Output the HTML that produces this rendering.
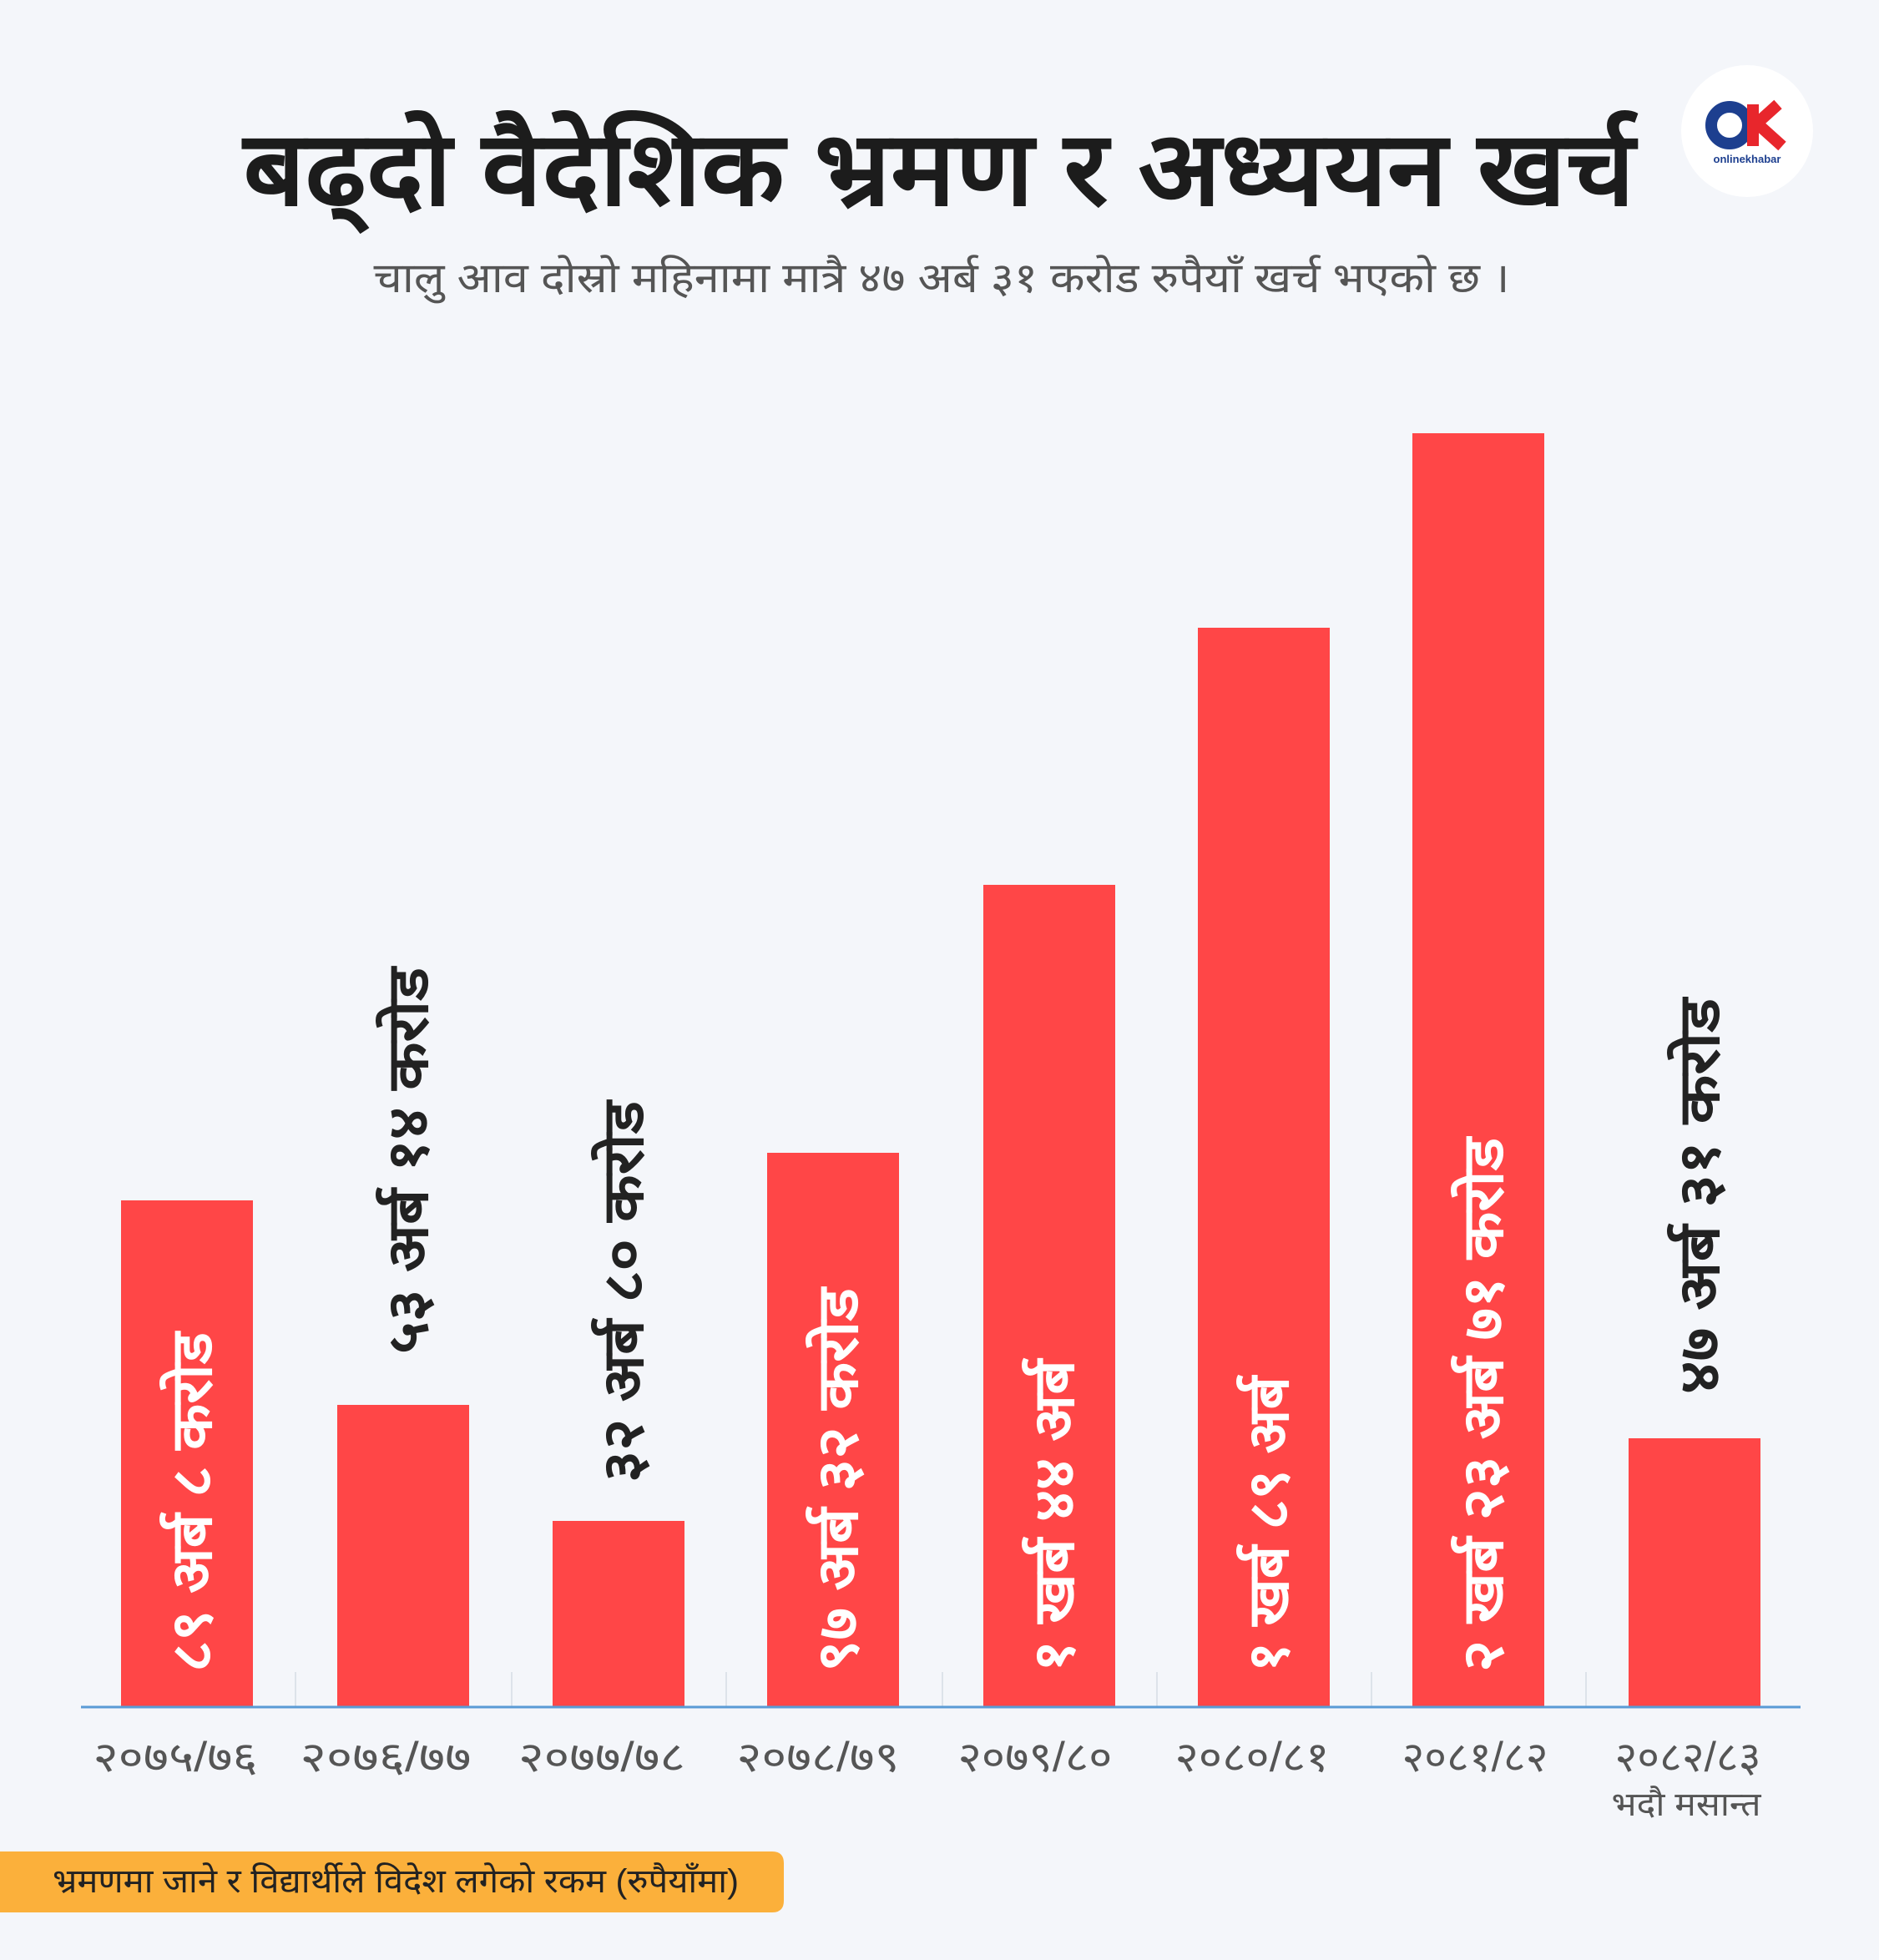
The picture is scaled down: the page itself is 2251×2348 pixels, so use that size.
<!DOCTYPE html>
<html><head><meta charset="utf-8"><style>
html,body{margin:0;padding:0;background:#f4f6fa;}
body{width:2251px;height:2343px;overflow:hidden;font-family:"Liberation Sans","Noto Sans CJK SC",sans-serif;}
</style></head><body>
<svg width="2251" height="2343" viewBox="0 0 2251 2343" xmlns="http://www.w3.org/2000/svg" font-family="Liberation Sans, Noto Sans CJK SC, sans-serif">
<rect width="2251" height="2343" fill="#f4f6fa"/>
<text x="1125" y="245" text-anchor="middle" font-size="124" font-weight="900" fill="#1c1c1c" textLength="1667" lengthAdjust="spacingAndGlyphs">बढ्दो वैदेशिक भ्रमण र अध्ययन खर्च</text>
<text x="1128" y="350" text-anchor="middle" font-size="50" fill="#555" textLength="1361" lengthAdjust="spacingAndGlyphs">चालु आव दोस्रो महिनामा मात्रै ४७ अर्ब ३१ करोड रुपैयाँ खर्च भएको छ ।</text>
<circle cx="2093" cy="157" r="79" fill="#fff"/>
<circle cx="2072" cy="150" r="22" fill="none" stroke="#1d3f8f" stroke-width="14"/>
<path d="M2100 125 L2100 175 M2100 152 L2130 125 M2105 148 L2135 175" stroke="#e8262c" stroke-width="14" fill="none"/>
<text x="2093" y="195" text-anchor="middle" font-size="13" font-weight="bold" fill="#1d3f8f">onlinekhabar</text>
<g stroke="#dde3ea" stroke-width="2">
<line x1="354" y1="2003" x2="354" y2="2045"/><line x1="613" y1="2003" x2="613" y2="2045"/><line x1="870" y1="2003" x2="870" y2="2045"/><line x1="1129" y1="2003" x2="1129" y2="2045"/><line x1="1386" y1="2003" x2="1386" y2="2045"/><line x1="1643" y1="2003" x2="1643" y2="2045"/><line x1="1900" y1="2003" x2="1900" y2="2045"/>
</g>
<g fill="#ff4647">
<rect x="145" y="1438" width="158" height="607"/>
<rect x="404" y="1683" width="158" height="362"/>
<rect x="662" y="1822" width="158" height="223"/>
<rect x="919" y="1381" width="158" height="664"/>
<rect x="1178" y="1060" width="158" height="985"/>
<rect x="1435" y="752" width="158" height="1293"/>
<rect x="1692" y="519" width="158" height="1526"/>
<rect x="1951" y="1723" width="158" height="322"/>
</g>
<line x1="97" y1="2045" x2="2157" y2="2045" stroke="#5a9bd5" stroke-width="3"/>
<g font-size="68" font-weight="bold" dominant-baseline="central" lengthAdjust="spacingAndGlyphs">
<text transform="translate(230,2003) rotate(-90)" fill="#fff" textLength="407" lengthAdjust="spacingAndGlyphs">८९ अर्ब ८ करोड</text>
<text transform="translate(489,1622) rotate(-90)" fill="#222" textLength="463" lengthAdjust="spacingAndGlyphs">५३ अर्ब १४ करोड</text>
<text transform="translate(747,1776) rotate(-90)" fill="#222" textLength="457" lengthAdjust="spacingAndGlyphs">३२ अर्ब ८० करोड</text>
<text transform="translate(1004,2003) rotate(-90)" fill="#fff" textLength="460" lengthAdjust="spacingAndGlyphs">९७ अर्ब ३२ करोड</text>
<text transform="translate(1263,2003) rotate(-90)" fill="#fff" textLength="374" lengthAdjust="spacingAndGlyphs">१ खर्ब ४४ अर्ब</text>
<text transform="translate(1520,2003) rotate(-90)" fill="#fff" textLength="354" lengthAdjust="spacingAndGlyphs">१ खर्ब ८९ अर्ब</text>
<text transform="translate(1777,2003) rotate(-90)" fill="#fff" textLength="640" lengthAdjust="spacingAndGlyphs">२ खर्ब २३ अर्ब ७१ करोड</text>
<text transform="translate(2036,1670) rotate(-90)" fill="#222" textLength="474" lengthAdjust="spacingAndGlyphs">४७ अर्ब ३१ करोड</text>
</g>
<g font-size="50" fill="#555" text-anchor="middle">
<text x="210" y="2122" textLength="197" lengthAdjust="spacingAndGlyphs">२०७५/७६</text>
<text x="462" y="2122" textLength="205" lengthAdjust="spacingAndGlyphs">२०७६/७७</text>
<text x="721" y="2122" textLength="200" lengthAdjust="spacingAndGlyphs">२०७७/७८</text>
<text x="980" y="2122" textLength="195" lengthAdjust="spacingAndGlyphs">२०७८/७९</text>
<text x="1240" y="2122" textLength="185" lengthAdjust="spacingAndGlyphs">२०७९/८०</text>
<text x="1500" y="2122" textLength="185" lengthAdjust="spacingAndGlyphs">२०८०/८१</text>
<text x="1767" y="2122" textLength="175" lengthAdjust="spacingAndGlyphs">२०८१/८२</text>
<text x="2022" y="2122" textLength="175" lengthAdjust="spacingAndGlyphs">२०८२/८३</text>
<text x="2020" y="2175" font-size="40" textLength="179" lengthAdjust="spacingAndGlyphs">भदौ मसान्त</text>
</g>
<path d="M0 2218 H925 Q939 2218 939 2232 V2277 Q939 2291 925 2291 H0 Z" fill="#fbb03b"/>
<text x="63" y="2267" font-size="40" fill="#222" textLength="822" lengthAdjust="spacingAndGlyphs">भ्रमणमा जाने र विद्यार्थीले विदेश लगेको रकम (रुपैयाँमा)</text>
</svg>
</body></html>
